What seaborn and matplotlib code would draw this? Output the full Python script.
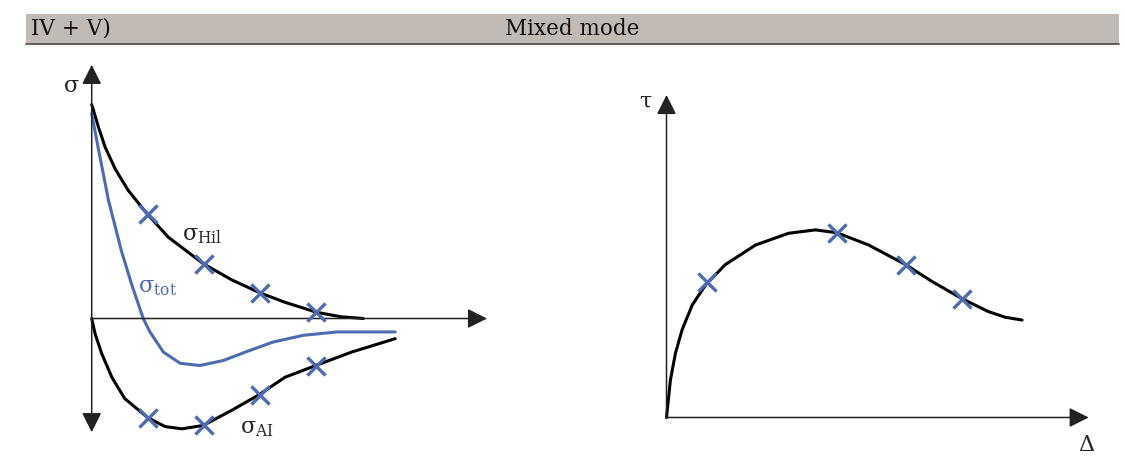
import numpy as np
import matplotlib
matplotlib.use("Agg")
import matplotlib.pyplot as plt
from matplotlib.patches import Rectangle
import seaborn as sns

sns.set_style("white")
plt.rcParams["font.family"] = ["DejaVu Serif", "DejaVu Sans"]
plt.rcParams["mathtext.fontset"] = "custom"
plt.rcParams["mathtext.rm"] = "DejaVu Serif"

# left sketch: normal stress vs opening (arbitrary units)
hil_x = [0, 0.12, 0.24, 0.42, 0.65, 0.98, 1.37, 1.99, 2.5, 3.0, 3.45, 4.02, 4.46, 4.85]
hil_y = [3.82, 3.42, 3.06, 2.67, 2.29, 1.88, 1.45, 0.98, 0.69, 0.46, 0.29, 0.11, 0.03, 0.0]

ai_x = [0, 0.06, 0.18, 0.36, 0.59, 1.0, 1.31, 1.61, 1.99, 2.5, 2.99, 3.45, 4.0, 4.64, 5.42]
ai_y = [0, -0.27, -0.63, -1.05, -1.43, -1.77, -1.93, -1.97, -1.91, -1.64, -1.36, -1.05, -0.84, -0.60, -0.36]

tot_x = [0, 0.125, 0.30, 0.53, 0.71, 0.92, 1.04, 1.28, 1.58, 1.93, 2.35, 2.77, 3.24, 3.78, 4.38, 4.97, 5.42]
tot_y = [3.66, 3.0, 2.11, 1.21, 0.62, 0.0, -0.24, -0.60, -0.80, -0.84, -0.75, -0.59, -0.42, -0.30, -0.24, -0.24, -0.24]

mark_x = [1, 2, 3, 4]
hil_mark_y = [1.87, 0.97, 0.46, 0.11]
ai_mark_y = [-1.77, -1.91, -1.36, -0.84]

# right sketch: shear stress vs slip
tau_x = [0, 0.07, 0.16, 0.28, 0.46, 0.70, 1.05, 1.59, 2.18, 2.66, 3.04,
         3.61, 4.27, 4.74, 5.28, 5.75, 6.05, 6.35]
tau_y = [0, 0.67, 1.15, 1.57, 2.01, 2.37, 2.73, 3.08, 3.29, 3.35, 3.30,
         3.08, 2.73, 2.43, 2.12, 1.89, 1.79, 1.74]
tau_mark_x = [0.73, 3.04, 4.27, 5.28]
tau_mark_y = [2.42, 3.30, 2.73, 2.12]

W, H = 1125, 469
SCALE = 56
BLUE = "#4d6bb0"
AX_COL = "#222222"

fig = plt.figure(figsize=(W / 100, H / 100), dpi=100)


def frame(left, top, right, bottom, ox, oy):
    ax = fig.add_axes([left / W, 1 - bottom / H, (right - left) / W, (bottom - top) / H])
    ax.set_xlim((left - ox) / SCALE, (right - ox) / SCALE)
    ax.set_ylim((oy - bottom) / SCALE, (oy - top) / SCALE)
    ax.axis("off")
    return ax


def arrow(ax, start, end, style="-|>"):
    ax.annotate("", xy=end, xytext=start,
                arrowprops=dict(arrowstyle=style + ",head_length=0.6,head_width=0.3",
                                color=AX_COL, lw=1.1, mutation_scale=20,
                                shrinkA=0, shrinkB=0))


def curve(ax, x, y, color):
    sns.lineplot(x=x, y=y, ax=ax, color=color, linewidth=2.2, sort=False,
                 estimator=None, solid_capstyle="round", solid_joinstyle="round")


def crosses(ax, x, y):
    sns.scatterplot(x=x, y=y, ax=ax, marker="x", s=170, linewidth=2.4,
                    color=BLUE, zorder=5)


# header bar
fig.patches.append(Rectangle((26 / W, 1 - 44 / H), (1119 - 26) / W, 30 / H,
                             transform=fig.transFigure, facecolor="#c2bbb5",
                             edgecolor="none", zorder=0))
fig.lines.append(plt.Line2D([26 / W, 1119 / W], [1 - 44 / H, 1 - 44 / H],
                            transform=fig.transFigure, color="#555555", lw=1.3))
fig.text(31 / W, 1 - 29 / H, "IV + V)", fontsize=15.5, va="center", ha="left", color="#111111")
fig.text(572 / W, 1 - 29 / H, "Mixed mode", fontsize=15.5, va="center", ha="center", color="#111111")

# left panel
ax1 = frame(55, 50, 505, 450, 91.7, 318.5)
arrow(ax1, (0, -2.03), (0, 4.53), "<|-|>")
arrow(ax1, (0, 0), (7.06, 0))
curve(ax1, hil_x, hil_y, "black")
curve(ax1, ai_x, ai_y, "black")
curve(ax1, tot_x, tot_y, BLUE)
crosses(ax1, mark_x, hil_mark_y)
crosses(ax1, mark_x, ai_mark_y)
ax1.text(-0.36, 4.16, "σ", fontsize=16, ha="center", va="center")
ax1.text(1.61, 1.5, r"σ$_{\mathrm{Hil}}$", fontsize=16, ha="left", va="center")
ax1.text(0.83, 0.56, r"σ$_{\mathrm{tot}}$", fontsize=16, ha="left", va="center", color=BLUE)
ax1.text(2.65, -1.96, r"σ$_{\mathrm{AI}}$", fontsize=16, ha="left", va="center")

# right panel
ax2 = frame(625, 80, 1115, 460, 666.5, 417.5)
arrow(ax2, (0, 0), (0, 5.76))
arrow(ax2, (0, 0), (7.54, 0))
curve(ax2, tau_x, tau_y, "black")
crosses(ax2, tau_mark_x, tau_mark_y)
ax2.text(-0.38, 5.64, "τ", fontsize=16, ha="center", va="center")
ax2.text(7.5, -0.49, "Δ", fontsize=16, ha="center", va="center")

fig.savefig("out.png", dpi=100)
